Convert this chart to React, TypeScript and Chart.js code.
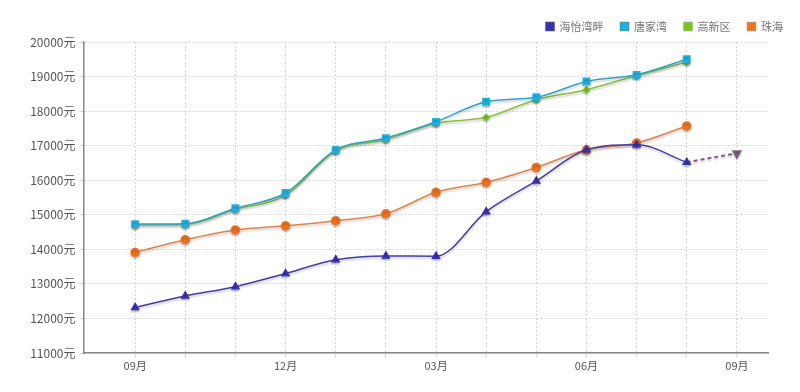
import React, { useEffect, useRef } from "react";
import { Chart, registerables } from "chart.js";

Chart.register(...registerables);

const months = ["09月", "10月", "11月", "12月", "01月", "02月", "03月", "04月", "05月", "06月", "07月", "08月", "09月"];
const yTicks = [11000, 12000, 13000, 14000, 15000, 16000, 17000, 18000, 19000, 20000];

const haiyi = [12320, 12650, 12920, 13300, 13700, 13810, 13800, 15090, 15980, 16880, 17030, 16520, null];
const haiyiForecast = [null, null, null, null, null, null, null, null, null, null, null, 16520, 16780];
const tangjia = [14730, 14740, 15190, 15630, 16880, 17220, 17690, 18270, 18400, 18860, 19050, 19500, null];
const gaoxin = [14700, 14720, 15160, 15570, 16850, 17180, 17650, 17820, 18330, 18620, 19030, 19420, null];
const zhuhai = [13910, 14280, 14560, 14680, 14830, 15030, 15650, 15940, 16370, 16880, 17080, 17570, null];

const toPts = (arr: (number | null)[]) =>
  arr.map((v, i) => (v === null ? null : { x: i, y: v })).filter((p) => p !== null) as { x: number; y: number }[];

const FONT = "'Microsoft YaHei', 'Noto Sans CJK SC', 'Noto Sans', sans-serif";

const shadowPlugin = {
  id: "lineShadow",
  beforeDatasetDraw(chart: any) {
    const ctx = chart.ctx;
    ctx.save();
    ctx.shadowColor = "rgba(0,0,0,0.2)";
    ctx.shadowBlur = 2;
    ctx.shadowOffsetY = 2;
  },
  afterDatasetDraw(chart: any) {
    chart.ctx.restore();
  },
};

export default function App() {
  const ref = useRef<HTMLCanvasElement | null>(null);
  useEffect(() => {
    document.body.style.margin = "0";
    const canvas = ref.current!;
    const common = { borderWidth: 1.5, cubicInterpolationMode: "monotone" };
    const chart = new Chart(canvas, {
      type: "line",
      data: {
        datasets: [
          {
            ...common,
            label: "海怡湾畔",
            data: toPts(haiyi),
            borderColor: "#443c9c",
            backgroundColor: "#3a30b4",
            pointBackgroundColor: "#3a30b4",
            pointBorderColor: "#3a30b4",
            pointStyle: "triangle",
            pointRadius: 4,
          },
          {
            ...common,
            label: "唐家湾",
            data: toPts(tangjia),
            borderColor: "#2ea3c4",
            backgroundColor: "#1db2e2",
            pointBackgroundColor: "#1db2e2",
            pointBorderColor: "#1db2e2",
            pointStyle: "rect",
            pointRadius: 4.5,
          },
          {
            ...common,
            label: "高新区",
            data: toPts(gaoxin),
            borderColor: "#84c23a",
            backgroundColor: "#78c21e",
            pointBackgroundColor: "#78c21e",
            pointBorderColor: "#78c21e",
            pointStyle: "rectRot",
            pointRadius: 3,
          },
          {
            ...common,
            label: "珠海",
            data: toPts(zhuhai),
            borderColor: "#d9854a",
            backgroundColor: "#f0701e",
            pointBackgroundColor: "#f0701e",
            pointBorderColor: "#f0701e",
            pointStyle: "circle",
            pointRadius: 4,
          },
          {
            label: "forecast",
            data: toPts(haiyiForecast),
            borderColor: "#7c5c7c",
            backgroundColor: "#7c5c7c",
            pointBackgroundColor: "#7c5c7c",
            pointBorderColor: "#7c5c7c",
            pointStyle: "triangle",
            rotation: 180,
            pointRadius: (c: any) => (c.dataIndex === 1 ? 4 : 0),
            borderWidth: 2,
            borderDash: [4, 3],
            tension: 0,
          } as any,
        ],
      },
      options: {
        animation: false,
        responsive: false,
        layout: { padding: { top: 4, right: 0, bottom: 0, left: 0 } },
        plugins: {
          tooltip: { enabled: false },
          legend: {
            position: "top",
            align: "end",
            labels: {
              boxWidth: 8,
              boxHeight: 8,
              padding: 17,
              color: "#777",
              font: { family: FONT, size: 11 },
              filter: (item: any) => item.text !== "forecast",
            },
          },
        },
        scales: {
          x: {
            type: "linear",
            min: -1.03,
            max: 12.62,
            afterBuildTicks: (scale: any) => {
              scale.ticks = months.map((_, i) => ({ value: i }));
            },
            afterFit: (scale: any) => {
              scale.height = 39;
            },
            ticks: {
              autoSkip: false,
              maxRotation: 0,
              color: "#555",
              padding: 2,
              font: { family: FONT, size: 11 },
              callback: (v: any) => (Number(v) % 3 === 0 ? months[Number(v)] : ""),
            },
            grid: {
              color: "#d4d4d4",
              tickColor: "#d4d4d4",
              tickLength: 4,
              lineWidth: 1,
            },
            border: { color: "#888", width: 1.5, dash: [2, 2] },
          },
          y: {
            type: "linear",
            min: yTicks[0],
            max: yTicks[yTicks.length - 1],
            afterBuildTicks: (scale: any) => {
              scale.ticks = yTicks.map((v) => ({ value: v }));
            },
            afterFit: (scale: any) => {
              scale.width = 83.5;
            },
            ticks: {
              color: "#555",
              padding: 4,
              font: { family: FONT, size: 12 },
              callback: (v: any) => v + "元",
            },
            grid: {
              color: "#d4d4d4",
              tickColor: "#d4d4d4",
              tickLength: 4,
              lineWidth: 1,
            },
            border: { color: "#888", width: 1.5, dash: [2, 2] },
          },
          y2: {
            type: "linear",
            position: "right",
            display: true,
            grid: { display: false },
            border: { display: false },
            ticks: { display: false },
            afterFit: (scale: any) => {
              scale.width = 32;
            },
          },
        },
      } as any,
      plugins: [shadowPlugin],
    });
    return () => chart.destroy();
  }, []);
  return (
    <div style={{ width: 800, height: 392 }}>
      <canvas ref={ref} width={800} height={392} />
    </div>
  );
}
